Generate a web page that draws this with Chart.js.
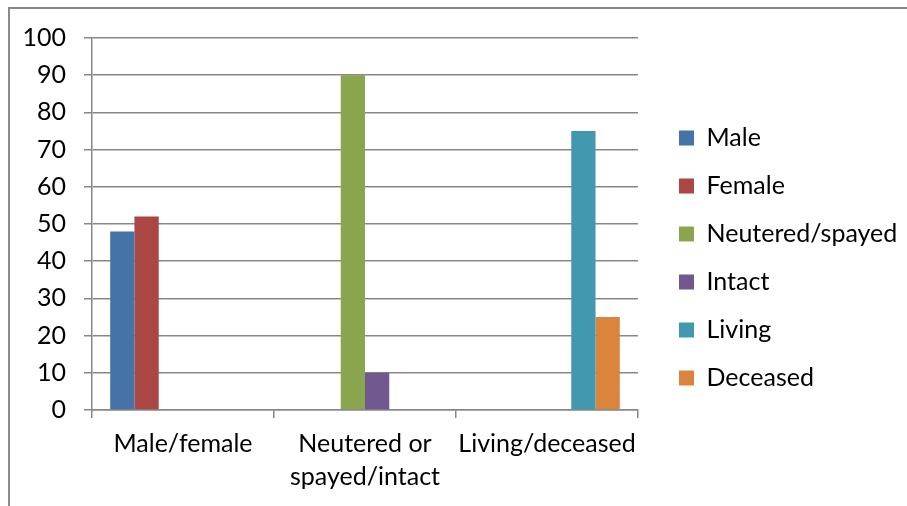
<!DOCTYPE html>
<html>
<head>
<meta charset="utf-8">
<script src="https://cdn.jsdelivr.net/npm/chart.js@4.4.1/dist/chart.umd.min.js"></script>
<style>
    html, body { margin: 0; padding: 0; background: #fff; }
    #wrap { position: relative; width: 907px; height: 506px; overflow: hidden; }
    #frame { position: absolute; left: 8px; top: 7px; width: 1000px; height: 600px;
             border-left: 2px solid #8a8a8a; border-top: 2px solid #8a8a8a; }
    canvas { position: absolute; left: 0; top: 0; }
</style>
</head>
<body>
<div id="wrap">
    <div id="frame"></div>
    <canvas id="chart" width="907" height="506"></canvas>
</div>
<script>
// Data
const categories = ['Male/female', ['Neutered or', 'spayed/intact'], 'Living/deceased'];
const seriesNames = ['Male', 'Female', 'Neutered/spayed', 'Intact', 'Living', 'Deceased'];
const maleValues      = [48, null, null];
const femaleValues    = [52, null, null];
const neuteredValues  = [null, 90, null];
const intactValues    = [null, 10, null];
const livingValues    = [null, null, 75];
const deceasedValues  = [null, null, 25];
const yTicks = { min: 0, max: 100, step: 10 };

const seriesValues = [maleValues, femaleValues, neuteredValues, intactValues, livingValues, deceasedValues];
const seriesColors = ['#4572a7', '#aa4643', '#89a54e', '#71588f', '#4198af', '#db843d'];

// Layout numbers (pixels)
const W = 907, H = 506;
const FONT = 25;
const FONT_FAMILY = 'Lato, "Open Sans", sans-serif';
const AXIS_LEFT = 92, AXIS_RIGHT = 638, AXIS_TOP = 38, AXIS_BOTTOM = 410;
const LEGEND_X = 679, LEGEND_FIRST_Y = 125.5, LEGEND_PAD = 48 - FONT, LEGEND_BOX = 15;
const GRID = '#878787';

Chart.defaults.font.family = FONT_FAMILY;
Chart.defaults.font.size = FONT;
Chart.defaults.color = '#000';

// legend width, and the right padding that puts the plot's right edge at AXIS_RIGHT.
// chart.js caps side boxes at availableWidth / 4 here (legend + y axis)
const mctx = document.createElement('canvas').getContext('2d');
mctx.font = FONT + 'px ' + FONT_FAMILY;
const widest = Math.max(...seriesNames.map(n => mctx.measureText(n).width));
const legendWidth = LEGEND_PAD + LEGEND_BOX + FONT / 2 + widest;
let padRight = W - AXIS_RIGHT - legendWidth;
if (legendWidth > (W - padRight) / 4) padRight = W - AXIS_RIGHT / 0.75;

// move the legend block to its place once layout is done
const legendPlace = {
    id: 'legendPlace',
    afterLayout(chart) {
        const lg = chart.legend;
        const dx = LEGEND_X - LEGEND_PAD - lg.left;
        const dy = LEGEND_FIRST_Y - LEGEND_PAD - lg.top;
        lg.left += dx;
        lg.right = W;
        lg.width = lg.right - lg.left;
        lg.top += dy; lg.bottom += dy;
    }
};

new Chart(document.getElementById('chart'), {
    type: 'bar',
    data: {
        labels: categories,
        datasets: seriesNames.map((name, i) => ({
            label: name,
            data: seriesValues[i],
            backgroundColor: seriesColors[i],
            borderWidth: 0,
            categoryPercentage: 0.8,
            barPercentage: 1.0
        }))
    },
    options: {
        responsive: false,
        animation: false,
        layout: { padding: { top: AXIS_TOP, left: 0, right: padRight, bottom: 0 } },
        plugins: {
            tooltip: { enabled: false },
            legend: {
                position: 'right',
                align: 'start',
                labels: {
                    boxWidth: LEGEND_BOX,
                    boxHeight: LEGEND_BOX,
                    padding: LEGEND_PAD,
                    color: '#000',
                    font: { size: FONT }
                }
            }
        },
        scales: {
            x: {
                afterFit: s => { s.height = H - AXIS_BOTTOM; },
                grid: { offset: true, drawOnChartArea: false, drawTicks: true, tickLength: 8, color: GRID, lineWidth: 1.5 },
                border: { color: GRID, width: 1.5 },
                ticks: { maxRotation: 0, autoSkip: false, padding: 9, color: '#000', font: { size: FONT, lineHeight: 1.32 } }
            },
            y: {
                min: yTicks.min,
                max: yTicks.max,
                afterFit: s => { s.width = AXIS_LEFT; },
                grid: { color: GRID, lineWidth: 1.5, tickLength: 8 },
                border: { color: GRID, width: 1.5 },
                ticks: { stepSize: yTicks.step, padding: 18, color: '#000', font: { size: FONT } }
            }
        }
    },
    plugins: [legendPlace]
});
</script>
</body>
</html>
